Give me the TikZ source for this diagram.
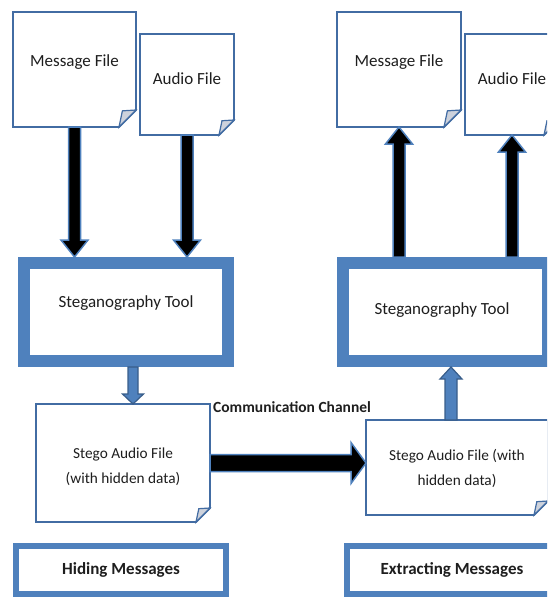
\documentclass[tikz,border=0pt]{standalone}
\usepackage{fontspec}
\setmainfont{Carlito}
\usetikzlibrary{calc}
\definecolor{boxblue}{RGB}{79,129,189}
\definecolor{lineblue}{RGB}{66,108,163}
\definecolor{edgeblue}{RGB}{56,93,138}
\definecolor{flapgray}{RGB}{205,210,220}
\definecolor{txt}{RGB}{30,30,30}

% block arrow: style, from, to, shaft half width, head half width, head length
\newcommand\blockarrow[6]{%
  \coordinate (ba-s) at (#2);
  \coordinate (ba-t) at (#3);
  \coordinate (ba-b) at ($(ba-t)!#6!(ba-s)$);
  \draw[#1] ($(ba-s)!#4!90:(ba-t)$) -- ($(ba-b)!#4!90:(ba-t)$) -- ($(ba-b)!#5!90:(ba-t)$)
    -- (ba-t) -- ($(ba-b)!#5!-90:(ba-t)$) -- ($(ba-b)!#4!-90:(ba-t)$)
    -- ($(ba-s)!#4!-90:(ba-t)$) -- cycle;}

% document outline with folded corner: node name, fold size
\newcommand\docoutline[2]{%
  \draw[docline] (#1.north west) -- (#1.north east) -- ($(#1.south east)+(0,-#2)$)
    -- ($(#1.south east)+(-#2,0)$) -- (#1.south west) -- cycle;
  \filldraw[flapline] ($(#1.south east)+(0,-#2)$) -- ($(#1.south east)+(-0.8*#2,-0.95*#2)$)
    -- ($(#1.south east)+(-#2,0)$) -- cycle;}

\begin{document}
\begin{tikzpicture}[x=1pt,y=-1pt,
  doc/.style={rectangle,inner sep=0pt,outer sep=0pt},
  docline/.style={draw=lineblue,line width=1.8pt,fill=white,line join=miter},
  flapline/.style={draw=lineblue,line width=1.2pt,fill=flapgray},
  docfont/.style={font=\fontsize{17}{20}\selectfont,text=txt},
  stegofont/.style={font=\fontsize{15.3}{25}\selectfont,text=txt,align=center},
  tool/.style={rectangle,draw=boxblue,line width=12pt,fill=white,outer sep=6pt,inner sep=0pt},
  tagbox/.style={rectangle,draw=boxblue,line width=6pt,fill=white,outer sep=3pt,inner sep=0pt,
    font=\bfseries\fontsize{17}{20}\selectfont,text=txt},
  blackarrow/.style={fill=black,draw=boxblue,line width=1.5pt,line join=miter},
  bluearrow/.style={fill=boxblue,draw=edgeblue,line width=1.2pt,line join=miter}]
\useasboundingbox (0,0) rectangle (547,597);
\clip (0,0) rectangle (547,597);

% documents (outline boxes)
\node[doc,minimum width=123,minimum height=115] (mfL) at (74.5,69.5) {};
\node[doc,minimum width=94,minimum height=101] (afL) at (187,84.5) {};
\node[doc,minimum width=124,minimum height=115] (mfR) at (399,69.5) {};
\node[doc,minimum width=94,minimum height=101] (afR) at (512,84.5) {};
\node[doc,minimum width=174,minimum height=118] (stL) at (123,463) {};
\node[doc,minimum width=182,minimum height=95] (stR) at (457,467.5) {};

\docoutline{mfL}{17}
\docoutline{afL}{15}
\docoutline{mfR}{17}
\docoutline{afR}{15}
\docoutline{stL}{14}
\docoutline{stR}{14}

\node[docfont] at ($(mfL.center)+(0,-7.5)$) {Message File};
\node[docfont] at ($(afL.center)+(0,-5.5)$) {Audio File};
\node[docfont] at ($(mfR.center)+(0,-7.5)$) {Message File};
\node[docfont] at ($(afR.center)+(0,-5.5)$) {Audio File};
\node[stegofont] at ($(stL.center)+(0,4)$) {Stego Audio File\\(with hidden data)};
\node[stegofont] at ($(stR.center)+(0,1)$) {Stego Audio File (with\\hidden data)};

% tools
\node[tool,minimum width=204,minimum height=98] (toolL) at (126,312) {};
\node[docfont] at ($(toolL.center)+(0,-9)$) {Steganography Tool};
\node[tool,minimum width=205,minimum height=98] (toolR) at (445.5,312) {};
\node[docfont] at ($(toolR.center)+(-3.5,-2)$) {Steganography Tool};

% bottom tags
\node[tagbox,minimum width=210,minimum height=48] (hide) at (121,570) {Hiding Messages};
\node[tagbox,minimum width=210,minimum height=48] (extract) at (452,570) {Extracting Messages};

% channel label
\node[anchor=west,inner sep=0pt,font=\bfseries\fontsize{15.5}{18}\selectfont,text=txt] (cc) at (213,407) {Communication Channel};

% arrows: hiding side
\blockarrow{blackarrow}{mfL.south}{mfL.south |- toolL.north}{6pt}{13.5pt}{17pt}
\blockarrow{blackarrow}{afL.south}{afL.south |- toolL.north}{6pt}{13.5pt}{17pt}
\coordinate (tlo) at ($(toolL.south)+(7,0)$);
\blockarrow{bluearrow}{tlo}{tlo |- stL.north}{5pt}{10.5pt}{10pt}

% channel
\blockarrow{blackarrow}{stL.east}{stL.east -| stR.west}{8.5pt}{20.5pt}{15pt}

% arrows: extracting side
\coordinate (sro) at ($(stR.north)+(-6,0)$);
\blockarrow{bluearrow}{sro}{sro |- toolR.south}{6pt}{11pt}{12pt}
\blockarrow{blackarrow}{mfR.south |- toolR.north}{mfR.south}{6pt}{13.5pt}{17pt}
\blockarrow{blackarrow}{afR.south |- toolR.north}{afR.south}{6pt}{13.5pt}{17pt}
\end{tikzpicture}
\end{document}
